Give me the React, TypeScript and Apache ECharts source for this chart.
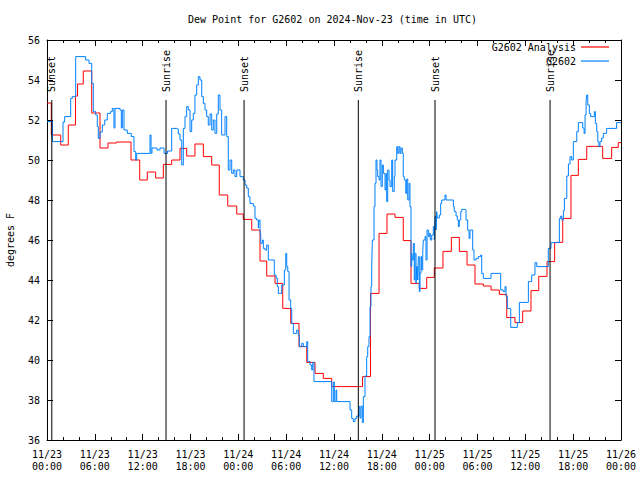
import React, { useEffect, useRef } from 'react';
import * as echarts from 'echarts';

const FONT = 'DejaVu Sans Mono';
const TITLE = 'Dew Point for G2602 on 2024-Nov-23 (time in UTC)';
const Y_NAME = 'degrees F';
const SERIES_NAMES = ['G2602 Analysis', 'G2602'];

// hours since 2024-11-23 00:00 UTC
const xTickLabels = [
  '11/23\n00:00', '11/23\n06:00', '11/23\n12:00', '11/23\n18:00',
  '11/24\n00:00', '11/24\n06:00', '11/24\n12:00', '11/24\n18:00',
  '11/25\n00:00', '11/25\n06:00', '11/25\n12:00', '11/25\n18:00',
  '11/26\n00:00',
];

const sunTimes = [0.6, 14.93, 24.72, 39.05, 48.67, 63.1];
const sunLabels = ['Sunset', 'Sunrise', 'Sunset', 'Sunrise', 'Sunset', 'Sunrise'];
const SUN_LINE_TOP = 53;

// [hour, degF]
const analysis: [number, number][] = [
  [0, 52.85], [0.54, 51.25], [1.72, 50.75], [2.67, 51.75], [3.57, 53.2], [3.83, 53.8], [4.55, 54.45],
  [5.61, 52.35], [6.65, 50.6], [7.65, 50.85], [8.74, 50.9], [10.54, 50.0], [11.63, 49.0], [12.58, 49.4],
  [13.63, 49.1], [14.59, 49.78], [15.64, 50.0], [16.68, 50.58], [17.52, 50.2], [18.56, 50.8], [19.61, 50.17],
  [20.66, 49.75], [21.61, 48.25], [22.67, 47.7], [23.8, 47.3], [24.62, 47.03], [25.68, 46.5], [26.72, 44.95],
  [27.56, 44.2], [28.6, 43.83], [29.57, 42.58], [30.57, 41.83], [31.61, 40.67], [32.58, 39.88], [33.62, 39.33],
  [34.66, 39.08], [35.71, 38.67], [39.58, 39.17], [40.58, 43.33], [41.65, 46.33], [42.65, 47.3], [43.65, 47.13],
  [44.69, 45.97], [45.66, 43.83], [46.7, 43.58], [47.63, 44.13], [48.58, 44.6], [49.67, 45.43], [50.72, 46.13],
  [51.72, 45.43], [52.69, 44.75], [53.69, 43.8], [54.73, 43.7], [55.7, 43.5], [56.74, 43.28], [57.67, 42.12],
  [58.7, 41.87], [59.67, 42.45], [60.71, 43.47], [61.68, 44.18], [62.72, 44.92], [63.68, 45.88], [64.69, 47.08],
  [65.73, 49.23], [66.65, 50.03], [67.7, 50.68], [69.7, 50.08], [70.83, 50.63], [71.66, 50.87], [72, 50.87],
];

const observedDay1: [number, number][] = [
  [0, 51.92], [0.69, 50.92], [2.01, 51.9], [2.22, 52.17], [2.97, 53.08], [3.17, 53.17], [3.6, 55.17],
  [4.85, 55.0], [5.27, 54.83], [5.61, 53.83], [5.81, 52.42], [6.11, 52.25], [6.31, 51.67], [6.44, 51.08],
  [6.65, 51.4], [6.94, 51.75], [7.24, 52.0], [7.56, 52.33], [7.99, 52.42], [8.19, 52.58], [8.4, 51.6],
  [8.53, 52.58], [9.16, 52.5], [9.32, 51.6], [9.45, 52.5], [9.66, 51.5], [10.07, 51.33], [10.57, 51.17],
  [10.91, 50.42], [11.13, 50.0], [11.25, 50.33], [12.92, 51.25], [13.05, 50.33], [13.17, 50.6], [13.8, 50.5],
  [14.17, 50.6], [14.68, 50.33], [15.12, 50.45], [15.64, 51.58], [16.27, 51.55], [16.47, 51.3], [16.68, 51.0],
  [16.9, 49.75], [17.1, 51.58], [17.31, 52.17], [17.52, 52.67], [17.72, 52.5], [17.94, 51.42], [18.15, 52.0],
  [18.35, 52.33], [18.56, 53.25], [18.78, 53.75], [18.98, 54.17], [19.19, 54.0], [19.41, 53.17], [19.61, 52.83],
  [19.82, 52.5], [20.03, 52.17], [20.23, 51.75], [20.45, 52.3], [20.66, 51.5], [20.86, 52.0], [21.07, 51.33],
  [21.29, 52.3], [21.49, 53.25], [21.7, 52.5], [21.91, 51.25], [22.33, 52.17], [22.54, 51.17], [22.74, 49.5],
  [22.96, 50.0], [23.17, 49.33], [23.37, 49.5], [23.58, 49.17], [23.8, 49.5],
];

const observedDay2: [number, number][] = [
  [24.21, 49.17], [24.62, 49.0], [24.84, 48.75], [25.05, 48.6], [25.25, 48.17], [25.46, 47.83], [25.88, 47.7],
  [26.09, 47.08], [26.3, 47.0], [26.51, 46.6], [26.59, 47.0], [26.72, 46.33], [26.81, 45.83], [27.01, 46.0],
  [27.13, 45.58], [27.35, 45.5], [27.56, 45.75], [27.76, 45.0], [28.51, 44.25], [28.73, 44.1], [28.89, 43.67],
  [29.02, 43.33], [29.44, 43.75], [29.77, 44.5], [29.95, 45.33], [30.07, 44.67], [30.2, 44.42], [30.36, 43.0],
  [30.57, 42.58], [30.7, 41.83], [30.9, 41.33], [31.32, 41.5], [31.52, 41.25], [31.65, 40.67], [31.95, 40.83],
  [32.15, 40.67], [32.58, 40.92], [32.7, 39.92], [32.99, 39.75], [33.2, 39.5], [33.33, 39.88], [33.49, 38.92],
  [35.71, 37.92], [35.91, 38.9], [36.04, 37.92], [36.25, 38.5], [36.34, 37.92], [38.01, 37.5], [38.22, 37.08],
  [38.42, 36.92], [38.63, 37.08], [38.85, 37.2], [39.14, 37.67], [39.26, 37.1], [39.39, 37.7], [39.55, 36.87],
  [39.68, 38.17], [39.89, 39.2], [40.1, 40.17], [40.23, 40.67], [40.39, 41.17], [40.52, 42.67], [40.64, 43.67],
  [40.73, 44.67], [40.81, 46.0], [41.02, 47.67], [41.14, 48.83], [41.27, 50.0], [41.39, 49.5], [41.48, 49.17],
  [41.65, 49.0], [41.77, 50.0], [41.9, 48.67], [42.06, 49.75], [42.19, 49.33], [42.4, 48.5], [42.52, 49.33],
  [42.61, 47.92], [42.74, 49.5], [42.9, 49.0], [43.03, 48.67], [43.24, 50.0], [43.36, 48.42], [43.56, 49.17],
  [43.65, 50.0], [43.87, 50.67], [43.99, 50.33], [44.15, 50.67], [44.28, 50.33], [44.41, 50.6], [44.57, 50.33],
  [44.69, 49.17], [44.82, 49.0], [45.0, 48.33], [45.12, 49.05], [45.25, 48.0], [45.41, 48.83], [45.53, 47.67],
  [45.66, 44.67], [45.75, 45.33], [45.82, 45.0], [45.95, 45.83], [46.07, 44.0], [46.16, 45.33], [46.29, 43.83],
  [46.37, 44.67], [46.5, 44.0], [46.58, 45.17], [46.7, 43.42], [46.79, 44.33], [46.91, 45.17], [47.0, 44.5],
  [47.13, 45.33], [47.2, 46.0], [47.42, 46.17], [47.54, 45.0], [47.67, 46.5], [47.83, 46.17],
];

const observedDay3: [number, number][] = [
  [47.96, 46.33], [48.08, 46.0], [48.26, 46.25], [48.46, 46.67], [48.59, 46.0], [48.67, 47.17], [48.8, 46.5],
  [48.88, 47.42], [48.96, 47.1], [49.21, 47.25], [49.38, 47.83], [49.51, 48.0], [49.92, 48.25], [50.05, 48.0],
  [50.97, 47.67], [51.09, 47.42], [51.31, 47.2], [51.47, 47.0], [51.6, 46.67], [51.72, 47.0], [51.9, 47.42],
  [52.02, 47.53], [52.44, 47.5], [52.56, 47.0], [52.77, 46.5], [52.94, 46.08], [53.06, 46.5], [53.4, 45.5],
  [53.56, 45.0], [53.81, 45.08], [54.1, 45.17], [54.4, 45.25], [54.53, 44.33], [54.73, 44.08], [55.7, 44.33],
  [56.91, 43.5], [57.24, 43.42], [57.45, 43.67], [57.58, 43.17], [57.74, 42.58], [58.17, 41.63], [59.0, 41.87],
  [59.25, 42.88], [60.38, 43.92], [60.8, 44.25], [61.21, 44.87], [61.43, 44.67], [62.88, 45.58], [63.22, 45.87],
  [64.27, 47.08], [64.44, 47.2], [64.57, 47.0], [64.77, 47.47], [64.9, 48.08], [65.2, 49.2], [65.4, 49.8],
  [65.61, 50.17], [65.82, 50.0], [66.02, 50.92], [66.45, 51.42], [66.65, 51.87], [67.2, 51.6], [67.37, 51.33],
  [67.49, 52.25], [67.62, 52.92], [67.7, 53.25], [67.83, 52.75], [68.03, 52.33], [68.2, 52.17], [68.66, 52.42],
  [68.78, 51.83], [68.96, 51.42], [69.09, 50.92], [69.23, 50.67], [69.36, 50.92], [69.57, 51.1], [69.78, 51.33],
  [70.2, 51.58], [71.45, 51.87], [72, 51.9],
];

const RED = '#ff0000';
const BLUE = '#0080ff';

export default function App() {
  const ref = useRef<HTMLDivElement>(null);

  useEffect(() => {
    if (!ref.current) return;
    const chart = echarts.init(ref.current, undefined, { renderer: 'svg' });
    const observed = [...observedDay1, ...observedDay2, ...observedDay3];
    const txt = { fontFamily: FONT, fontSize: 10, color: '#000' };
    const tickCommon = {
      axisLine: { show: true, onZero: false, lineStyle: { color: '#000', width: 1 } },
      splitLine: { show: false },
    };
    const xCommon = {
      type: 'value' as const,
      min: 0,
      max: 72,
      interval: 6,
      ...tickCommon,
      axisTick: { show: true, inside: true, length: 6, lineStyle: { color: '#000' } },
      minorTick: { show: true, splitNumber: 3, length: 3, lineStyle: { color: '#000' } },
    };
    const yCommon = {
      type: 'value' as const,
      min: 36,
      max: 56,
      interval: 2,
      ...tickCommon,
      axisTick: { show: true, inside: true, length: 6, lineStyle: { color: '#000' } },
    };
    const legendCommon = {
      orient: 'vertical' as const,
      align: 'right' as const,
      right: 31,
      padding: 0,
      icon: 'rect',
      itemWidth: 28,
      itemHeight: 1.2,
      selectedMode: false,
      textStyle: { ...txt },
    };
    chart.setOption({
      animation: false,
      backgroundColor: '#fff',
      title: {
        text: TITLE,
        left: 183,
        top: 9,
        textStyle: { ...txt, fontWeight: 'normal' },
      },
      legend: [
        { ...legendCommon, top: 42, data: [SERIES_NAMES[0]] },
        { ...legendCommon, top: 56, data: [SERIES_NAMES[1]] },
      ],
      grid: { left: 47, right: 19, top: 40, bottom: 40, outerBoundsMode: 'none', containLabel: false },
      xAxis: [
        {
          ...xCommon,
          position: 'bottom',
          axisLabel: {
            ...txt,
            margin: 8,
            lineHeight: 12,
            formatter: (v: number) => xTickLabels[Math.round(v / 6)] ?? '',
          },
        },
        { ...xCommon, position: 'top', axisLabel: { show: false } },
      ],
      yAxis: [
        {
          ...yCommon,
          position: 'left',
          name: Y_NAME,
          nameLocation: 'middle',
          nameGap: 32,
          nameTextStyle: { ...txt },
          axisLabel: { ...txt, margin: 7 },
        },
        { ...yCommon, position: 'right', axisLabel: { show: false } },
      ],
      series: [
        {
          name: SERIES_NAMES[0],
          type: 'line',
          step: 'end',
          data: analysis,
          symbol: 'none',
          lineStyle: { color: RED, width: 1 },
          itemStyle: { color: RED },
          z: 2,
        },
        {
          name: SERIES_NAMES[1],
          type: 'line',
          step: 'end',
          data: observed,
          symbol: 'none',
          lineStyle: { color: BLUE, width: 1 },
          itemStyle: { color: BLUE },
          z: 3,
        },
        {
          type: 'custom',
          z: 4,
          silent: true,
          data: sunTimes.map((t) => [t, SUN_LINE_TOP]),
          encode: { x: 0, y: 1 },
          renderItem: (params: any, api: any) => {
            const t = api.value(0);
            const top = api.coord([t, api.value(1)]);
            const bottom = api.coord([t, 36]);
            return {
              type: 'group',
              children: [
                {
                  type: 'line',
                  shape: { x1: top[0], y1: top[1], x2: bottom[0], y2: bottom[1] },
                  style: { stroke: '#000', lineWidth: 1 },
                },
                {
                  type: 'text',
                  x: top[0],
                  y: top[1] - 8,
                  rotation: Math.PI / 2,
                  style: {
                    text: sunLabels[params.dataIndex],
                    align: 'left',
                    verticalAlign: 'middle',
                    fill: '#000',
                    fontFamily: FONT,
                    fontSize: 10,
                  },
                },
              ],
            };
          },
        },
      ],
    });
    return () => chart.dispose();
  }, []);

  return (
    <div
      ref={ref}
      style={{ position: 'fixed', left: 0, top: 0, width: 640, height: 480 }}
    />
  );
}
